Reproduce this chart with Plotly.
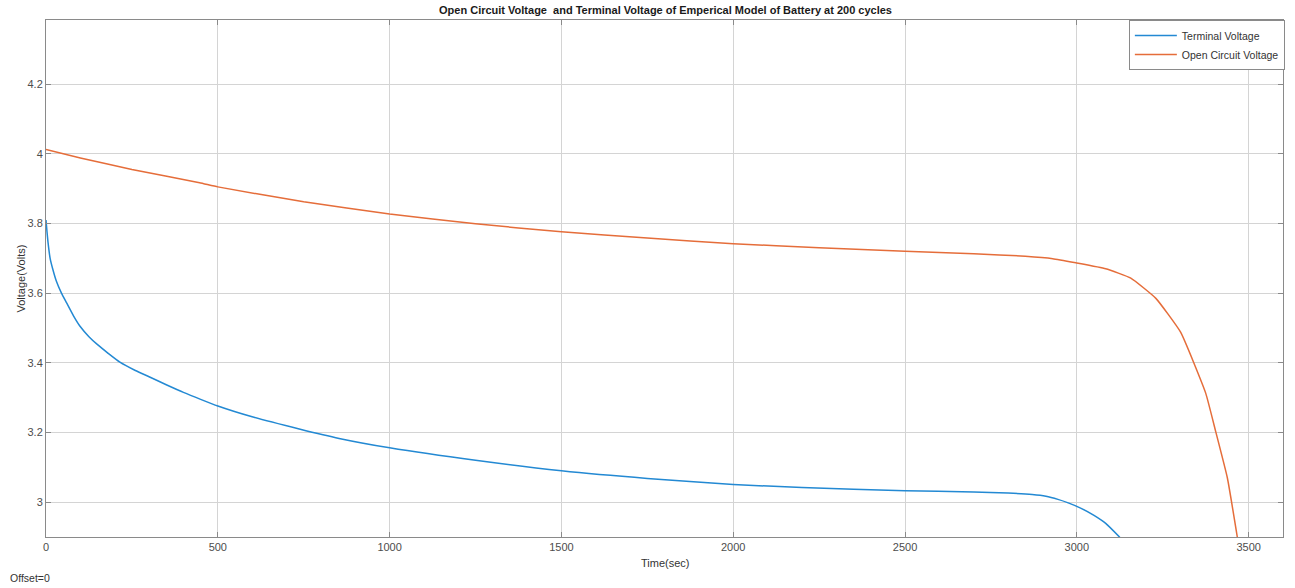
import plotly.graph_objects as go

# Terminal voltage (blue)
t_term = [0, 3, 6, 12, 20, 30, 45, 60, 80, 99, 125, 150, 180, 215, 260, 300, 350, 400,
          450, 500, 600, 737, 853, 1000, 1250, 1500, 1750, 2000, 2200, 2500, 2700, 2800,
          2870, 2910, 2945, 2975, 3011, 3050, 3084, 3125]
v_term = [3.81, 3.775, 3.745, 3.70, 3.668, 3.635, 3.60, 3.572, 3.535, 3.505, 3.475,
          3.452, 3.428, 3.402, 3.378, 3.36, 3.337, 3.315, 3.295, 3.276, 3.245, 3.21,
          3.183, 3.156, 3.12, 3.09, 3.068, 3.051, 3.042, 3.033, 3.029, 3.026, 3.022,
          3.017, 3.008, 2.998, 2.983, 2.962, 2.939, 2.899]

# Open circuit voltage (orange)
t_ocv = [0, 100, 250, 447, 500, 750, 1000, 1250, 1500, 1750, 2000, 2250, 2500,
         2700, 2850, 2930, 2997, 3084, 3157, 3230, 3302, 3375, 3403, 3438, 3467]
v_ocv = [4.012, 3.988, 3.955, 3.917, 3.905, 3.862, 3.827, 3.799, 3.776, 3.758,
         3.742, 3.730, 3.720, 3.713, 3.706, 3.699, 3.687, 3.670, 3.643, 3.585, 3.488,
         3.313, 3.207, 3.07, 2.9]

x_ticks = [0, 500, 1000, 1500, 2000, 2500, 3000, 3500]
y_ticks = [3.0, 3.2, 3.4, 3.6, 3.8, 4.0, 4.2]
y_tick_text = ["3", "3.2", "3.4", "3.6", "3.8", "4", "4.2"]

FONT = "Liberation Sans, Arial, sans-serif"

fig = go.Figure()
fig.add_trace(go.Scatter(x=t_term, y=v_term, mode="lines", name="Terminal Voltage",
                         line=dict(color="#2389d3", width=1.5, shape="spline", smoothing=0.6)))
fig.add_trace(go.Scatter(x=t_ocv, y=v_ocv, mode="lines", name="Open Circuit Voltage",
                         line=dict(color="#e56d3a", width=1.5, shape="spline", smoothing=0.4)))

axis_common = dict(showline=True, linecolor="#8a8a8a", linewidth=1, mirror="allticks",
                   ticks="inside", ticklen=5, tickcolor="#8a8a8a",
                   showgrid=True, gridcolor="#d4d4d4", gridwidth=1, zeroline=False,
                   tickfont=dict(family=FONT, size=11, color="#4d4d4d"))

fig.update_xaxes(range=[0, 3600], tickvals=x_ticks, **axis_common)
fig.update_yaxes(range=[2.9, 4.384], tickvals=y_ticks, ticktext=y_tick_text, **axis_common)

fig.update_layout(
    width=1295, height=588,
    margin=dict(l=46, r=10, t=20, b=51),
    paper_bgcolor="white", plot_bgcolor="white",
    font=dict(family=FONT, size=11, color="#333333"),
    title=dict(text="<b>Open Circuit Voltage  and Terminal Voltage of Emperical Model of Battery at 200 cycles</b>",
               x=(46 + 1285) / 2 / 1295, xanchor="center", y=1 - 10 / 588, yanchor="middle",
               font=dict(family=FONT, size=11, color="#1a1a1a")),
    legend=dict(x=1.0015, xanchor="right", y=1, yanchor="top",
                bgcolor="white", bordercolor="#8a8a8a", borderwidth=1,
                font=dict(family=FONT, size=10.5, color="#333333"),
                itemwidth=42, tracegroupgap=2),
    showlegend=True,
    annotations=[
        dict(text="Voltage(Volts)", xref="paper", yref="paper", x=0, y=0.5,
             xshift=-26, xanchor="center", yanchor="middle", textangle=-90,
             showarrow=False, font=dict(family=FONT, size=11, color="#333333")),
        dict(text="Time(sec)", xref="paper", yref="paper", x=0.5, y=0,
             yshift=-26, xanchor="center", yanchor="middle",
             showarrow=False, font=dict(family=FONT, size=11, color="#333333")),
        dict(text="Offset=0", xref="paper", yref="paper", x=0, y=0,
             xshift=-38, yshift=-41, xanchor="left", yanchor="middle",
             showarrow=False, font=dict(family=FONT, size=10.5, color="#333333")),
    ],
)

fig.write_html("out.html")
